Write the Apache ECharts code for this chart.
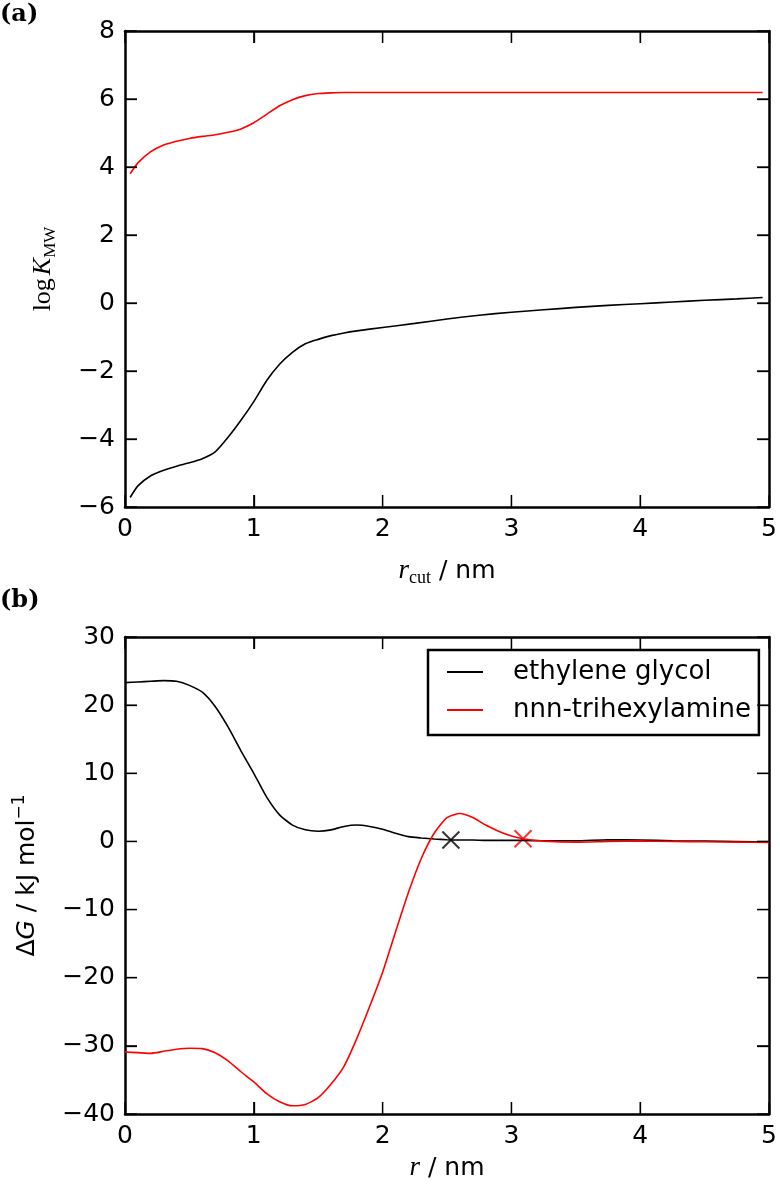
<!DOCTYPE html>
<html>
<head>
<meta charset="utf-8">
<style>html,body{margin:0;padding:0;background:#fff;}#c{width:780px;height:1191px;}</style>
<script src="https://cdn.jsdelivr.net/npm/echarts@6/dist/echarts.min.js"></script>
</head>
<body>
<div id="c"></div>
<script>
// ---- Panel (a): log K_MW vs r_cut ----
const topX = [0.04, 0.1, 0.2, 0.3, 0.4, 0.5, 0.6, 0.7, 0.8, 0.9, 1.0, 1.1, 1.2, 1.3, 1.4, 1.5, 1.6, 1.7, 1.8, 2.0, 2.25, 2.5, 2.75, 3.0, 3.25, 3.5, 3.75, 4.0, 4.25, 4.5, 4.75, 4.95];
const topEG = [-5.72, -5.38, -5.08, -4.92, -4.8, -4.7, -4.58, -4.38, -3.95, -3.45, -2.9, -2.28, -1.8, -1.45, -1.2, -1.07, -0.96, -0.88, -0.82, -0.72, -0.6, -0.47, -0.36, -0.27, -0.2, -0.13, -0.07, -0.02, 0.03, 0.08, 0.12, 0.16];
const topTHA = [3.8, 4.12, 4.45, 4.65, 4.76, 4.84, 4.9, 4.95, 5.02, 5.12, 5.3, 5.55, 5.8, 5.98, 6.1, 6.16, 6.18, 6.19, 6.19, 6.19, 6.19, 6.19, 6.19, 6.19, 6.19, 6.19, 6.19, 6.19, 6.19, 6.19, 6.19, 6.19];

// ---- Panel (b): ΔG vs r ----
const botX = [0, 0.1, 0.2, 0.3, 0.4, 0.5, 0.6, 0.7, 0.8, 0.9, 1.0, 1.1, 1.2, 1.3, 1.4, 1.5, 1.6, 1.7, 1.8, 1.9, 2.0, 2.1, 2.2, 2.3, 2.4, 2.5, 2.6, 2.7, 2.8, 2.9, 3.0, 3.1, 3.25, 3.5, 3.75, 4.0, 4.25, 4.5, 4.75, 5.0];
const botEG = [23.3, 23.4, 23.5, 23.6, 23.5, 22.9, 21.9, 19.8, 16.8, 13.3, 10.0, 6.5, 3.9, 2.4, 1.7, 1.5, 1.7, 2.2, 2.4, 2.2, 1.8, 1.2, 0.7, 0.5, 0.35, 0.25, 0.2, 0.2, 0.15, 0.15, 0.15, 0.15, 0.1, 0.1, 0.25, 0.2, 0.1, 0.05, 0.0, -0.1];
const botTHA = [-30.9, -31.0, -31.1, -30.8, -30.5, -30.35, -30.4, -31.0, -32.2, -33.8, -35.3, -37.0, -38.2, -38.8, -38.6, -37.6, -35.6, -33.0, -28.9, -24.2, -19.2, -13.3, -7.5, -2.5, 1.2, 3.5, 4.1, 3.5, 2.4, 1.5, 0.8, 0.35, 0.05, -0.1, 0.0, 0.05, 0.0, -0.05, -0.1, -0.15];

// cut-off markers
const egMarker = [2.53, 0.2];
const thaMarker = [3.09, 0.4];

// tick values
const xTicks = [0, 1, 2, 3, 4, 5];
const yTicksA = [-6, -4, -2, 0, 2, 4, 6, 8];
const yTicksB = [-40, -30, -20, -10, 0, 10, 20, 30];

const seriesNames = ['ethylene glycol', 'nnn-trihexylamine'];
const colors = ['#000000', '#ff0000'];

const zip = (xs, ys) => xs.map((x, i) => [x, ys[i]]);
const fmt = v => String(v).replace('-', '\u2212');
const SANS = 'DejaVu Sans';
const SERIF = 'Liberation Serif';

function ax(o) {
  return Object.assign({
    type: 'value',
    splitLine: { show: false },
    axisLine: { show: true, onZero: false, lineStyle: { color: '#000', width: 2.5 } },
    axisTick: { show: true, inside: true, length: 12, lineStyle: { color: '#000', width: 1.3 } },
    axisLabel: { show: true, color: '#000', fontFamily: SANS, fontSize: 25, margin: 10, formatter: fmt }
  }, o);
}

const richRcut = {
  i: { fontFamily: SERIF, fontStyle: 'italic', fontSize: 27, lineHeight: 32, color: '#000' },
  s: { fontFamily: SERIF, fontSize: 18, lineHeight: 18, verticalAlign: 'bottom', color: '#000' },
  t: { fontFamily: SANS, fontSize: 25, lineHeight: 32, color: '#000' }
};
const richR = {
  i: { fontFamily: SERIF, fontStyle: 'italic', fontSize: 27, lineHeight: 32, color: '#000' },
  t: { fontFamily: SANS, fontSize: 25, lineHeight: 32, color: '#000' }
};
const richK = {
  a: { fontFamily: SERIF, fontSize: 26, lineHeight: 32, color: '#000' },
  b: { fontFamily: SERIF, fontStyle: 'italic', fontSize: 26, lineHeight: 32, color: '#000', padding: [0, 0, 0, 3] },
  c: { fontFamily: SERIF, fontSize: 17, lineHeight: 17, verticalAlign: 'bottom', color: '#000' }
};
const richG = {
  t: { fontFamily: SANS, fontSize: 25, lineHeight: 32, color: '#000' },
  g: { fontFamily: SANS, fontStyle: 'italic', fontSize: 25, lineHeight: 32, color: '#000' },
  s: { fontFamily: SANS, fontSize: 17, lineHeight: 17, verticalAlign: 'top', color: '#000' }
};

const xMark = 'path://M0,0L10,10M10,0L0,10';

const option = {
  animation: false,
  grid: [
    { left: 125, right: 10, top: 31, height: 476, show: false },
    { left: 125, right: 10, top: 637, height: 477, show: false }
  ],
  xAxis: [
    ax({ gridIndex: 0, min: 0, max: 5, interval: 1, position: 'bottom',
         name: '{i|r}{s|cut}{t| / nm}', nameLocation: 'middle', nameGap: 48, nameTextStyle: { rich: richRcut } }),
    ax({ gridIndex: 0, min: 0, max: 5, interval: 1, position: 'top', axisLabel: { show: false } }),
    ax({ gridIndex: 1, min: 0, max: 5, interval: 1, position: 'bottom',
         name: '{i|r}{t| / nm}', nameLocation: 'middle', nameGap: 38, nameTextStyle: { rich: richR } }),
    ax({ gridIndex: 1, min: 0, max: 5, interval: 1, position: 'top', axisLabel: { show: false } })
  ],
  yAxis: [
    ax({ gridIndex: 0, min: -6, max: 8, interval: 2, position: 'left',
         name: '{a|log}{b|K}{c|MW}', nameLocation: 'middle', nameRotate: 90, nameGap: 66, nameTextStyle: { rich: richK } }),
    ax({ gridIndex: 0, min: -6, max: 8, interval: 2, position: 'right', axisLabel: { show: false } }),
    ax({ gridIndex: 1, min: -40, max: 30, interval: 10, position: 'left',
         name: '{t|Δ}{g|G}{t| / kJ mol}{s|\u22121}', nameLocation: 'middle', nameRotate: 90, nameGap: 82, nameTextStyle: { rich: richG } }),
    ax({ gridIndex: 1, min: -40, max: 30, interval: 10, position: 'right', axisLabel: { show: false } })
  ],
  legend: {
    data: seriesNames,
    orient: 'vertical',
    left: 428, top: 650,
    padding: [9, 8, 12, 19],
    icon: 'rect',
    itemWidth: 36, itemHeight: 1.8, itemGap: 12,
    borderColor: '#000', borderWidth: 2.5, borderRadius: 0,
    backgroundColor: '#fff',
    textStyle: { fontFamily: SANS, fontSize: 26, color: '#000', padding: [0, 0, 0, 25] },
    selectedMode: false
  },
  series: [
    { type: 'line', name: seriesNames[0], xAxisIndex: 0, yAxisIndex: 0, data: zip(topX, topEG), symbol: 'none', smooth: 0.2, lineStyle: { color: colors[0], width: 1.6 }, itemStyle: { color: colors[0] } },
    { type: 'line', name: seriesNames[1], xAxisIndex: 0, yAxisIndex: 0, data: zip(topX, topTHA), symbol: 'none', smooth: 0.2, lineStyle: { color: colors[1], width: 1.6 }, itemStyle: { color: colors[1] } },
    { type: 'line', name: seriesNames[0], xAxisIndex: 2, yAxisIndex: 2, data: zip(botX, botEG), symbol: 'none', smooth: 0.2, lineStyle: { color: colors[0], width: 1.6 }, itemStyle: { color: colors[0] } },
    { type: 'line', name: seriesNames[1], xAxisIndex: 2, yAxisIndex: 2, data: zip(botX, botTHA), symbol: 'none', smooth: 0.2, lineStyle: { color: colors[1], width: 1.6 }, itemStyle: { color: colors[1] } },
    { type: 'scatter', name: 'eg cutoff', xAxisIndex: 2, yAxisIndex: 2, data: [egMarker], symbol: xMark, symbolSize: 17, silent: true, itemStyle: { color: 'none', borderColor: colors[0], borderWidth: 2 } },
    { type: 'scatter', name: 'tha cutoff', xAxisIndex: 2, yAxisIndex: 2, data: [thaMarker], symbol: xMark, symbolSize: 17, silent: true, itemStyle: { color: 'none', borderColor: colors[1], borderWidth: 2 } }
  ]
};

const chart = echarts.init(document.getElementById('c'));
chart.setOption(option);

// Inward tick marks on all four sides, placed through the axes' own scales.
const L = 12;
const seg = (x1, y1, x2, y2) => ({ type: 'line', silent: true, z: 100, shape: { x1, y1, x2, y2 }, style: { stroke: '#000', lineWidth: 1.3 } });
function ticksFor(xAxisIndex, yAxisIndex, yTicks, yMin, yMax) {
  const px = v => chart.convertToPixel({ xAxisIndex }, v);
  const py = v => chart.convertToPixel({ yAxisIndex }, v);
  const left = px(xTicks[0]), right = px(xTicks[xTicks.length - 1]);
  const bottom = py(yMin), top = py(yMax);
  const out = [];
  xTicks.forEach(v => { const x = px(v); out.push(seg(x, bottom, x, bottom - L), seg(x, top, x, top + L)); });
  yTicks.forEach(v => { const y = py(v); out.push(seg(left, y, left + L, y), seg(right, y, right - L, y)); });
  return out;
}
const elements = [
  { type: 'text', left: 0, top: 3, z: 100, style: { text: '(a)', font: 'bold 24px "DejaVu Serif"', fill: '#000' } },
  { type: 'text', left: 0, top: 589, z: 100, style: { text: '(b)', font: 'bold 24px "DejaVu Serif"', fill: '#000' } }
].concat(ticksFor(0, 0, yTicksA, -6, 8), ticksFor(2, 2, yTicksB, -40, 30));
chart.setOption({ graphic: { elements } });
</script>
</body>
</html>
